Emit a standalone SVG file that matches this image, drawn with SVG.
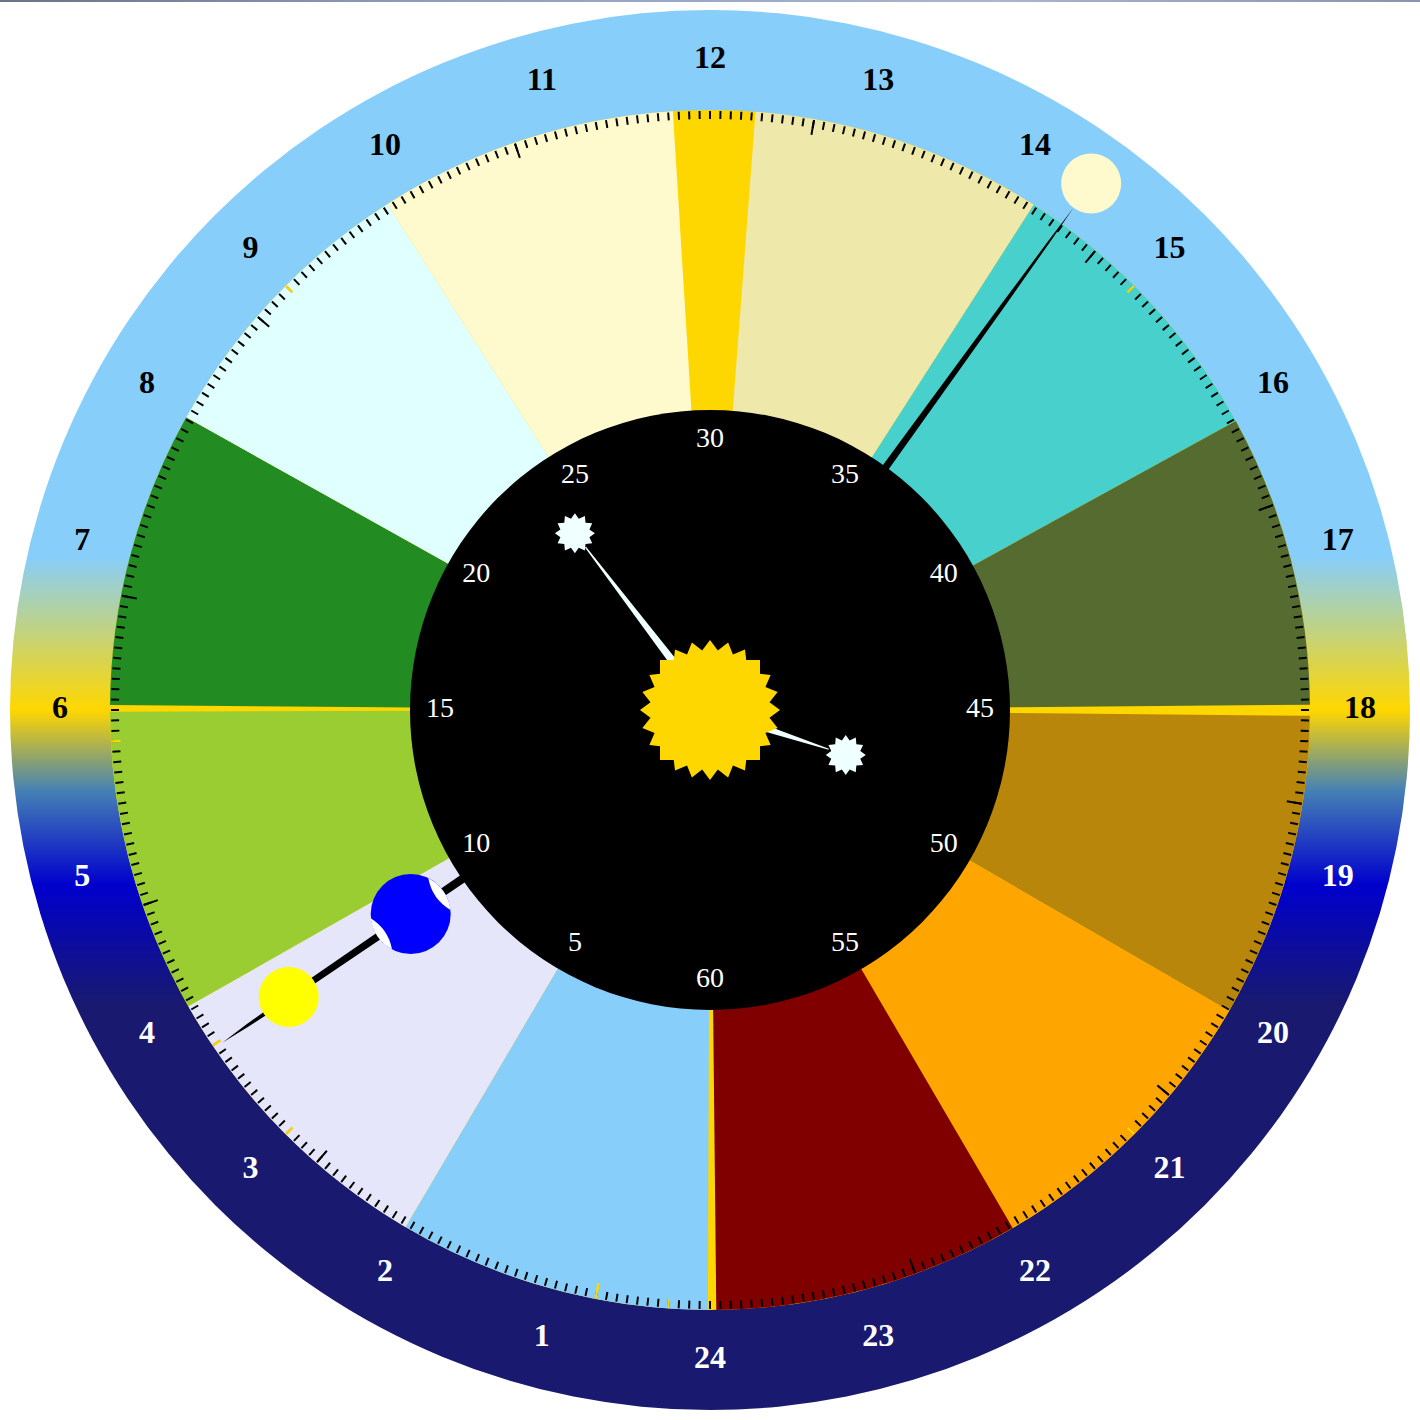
<svg xmlns="http://www.w3.org/2000/svg" width="1420" height="1420" viewBox="0 0 1420 1420">
<style>
.tk{stroke:#000;stroke-width:2}
.yt{stroke:#FFD700;stroke-width:2.4}
.hr{font-family:"Liberation Serif",serif;font-weight:bold;font-size:32px;text-anchor:middle}
.hw{fill:#fff}
.hb{fill:#000}
.mn{font-family:"Liberation Serif",serif;font-size:28px;text-anchor:middle;fill:#fff}
.az{fill:#F0FFFF}
</style>
<defs>
<linearGradient id="sky" x1="0" y1="0" x2="0" y2="1">
<stop offset="0" stop-color="#87CEFA"/>
<stop offset="0.39" stop-color="#87CEFA"/>
<stop offset="0.5" stop-color="#FFD700"/>
<stop offset="0.557" stop-color="#4682B4"/>
<stop offset="0.625" stop-color="#0000CD"/>
<stop offset="0.71" stop-color="#191970"/>
<stop offset="1" stop-color="#191970"/>
</linearGradient>
<linearGradient id="strip" x1="0" y1="0" x2="1" y2="0">
<stop offset="0" stop-color="#6d7385"/>
<stop offset="0.3" stop-color="#8f9cc0"/>
<stop offset="0.7" stop-color="#a9b6cc"/>
<stop offset="1" stop-color="#8a93ad"/>
</linearGradient>
<line id="tk" class="tk" x1="710" y1="111" x2="710" y2="119"/>
<g id="t10">
<use href="#tk"/>
<use href="#tk" transform="rotate(1 710 710)"/>
<use href="#tk" transform="rotate(2 710 710)"/>
<use href="#tk" transform="rotate(3 710 710)"/>
<use href="#tk" transform="rotate(4 710 710)"/>
<use href="#tk" transform="rotate(5 710 710)"/>
<use href="#tk" transform="rotate(6 710 710)"/>
<use href="#tk" transform="rotate(7 710 710)"/>
<use href="#tk" transform="rotate(8 710 710)"/>
<use href="#tk" transform="rotate(9 710 710)"/>
</g>
<path id="star12" d="M0,-20 L3.88,-14.49 L10,-17.32 L10.61,-10.61 L17.32,-10 L14.49,-3.88 L20,0 L14.49,3.88 L17.32,10 L10.61,10.61 L10,17.32 L3.88,14.49 L0,20 L-3.88,14.49 L-10,17.32 L-10.61,10.61 L-17.32,10 L-14.49,3.88 L-20,0 L-14.49,-3.88 L-17.32,-10 L-10.61,-10.61 L-10,-17.32 L-3.88,-14.49 Z"/>
</defs>

<rect x="0" y="0" width="1420" height="2" fill="url(#strip)"/>

<g id="outer-ring">
<circle cx="710" cy="710" r="700" fill="url(#sky)"/>
</g>

<g id="sectors">
<circle cx="710" cy="710" r="600" fill="#FFD700"/>
<path fill="#EEE8AA" d="M710,710 L755.51,111.73 A600,600 0 0 1 1033.71,204.81 Z"/>
<path fill="#48D1CC" d="M710,710 L1033.71,204.81 A600,600 0 0 1 1235.78,420.94 Z"/>
<path fill="#556B2F" d="M710,710 L1235.78,420.94 A600,600 0 0 1 1309.98,704.76 Z"/>
<path fill="#B8860B" d="M710,710 L1309.97,715.76 A600,600 0 0 1 1229.09,1010.91 Z"/>
<path fill="#FFA500" d="M710,710 L1229.09,1010.91 A600,600 0 0 1 1012.72,1228.04 Z"/>
<path fill="#800000" d="M710,710 L1012.72,1228.04 A600,600 0 0 1 716.28,1309.97 Z"/>
<path fill="#87CEFA" d="M710,710 L707.91,1310 A600,600 0 0 1 405.48,1226.98 Z"/>
<path fill="#E6E6FA" d="M710,710 L405.48,1226.98 A600,600 0 0 1 188.30,1006.37 Z"/>
<path fill="#9ACD32" d="M710,710 L188.30,1006.37 A600,600 0 0 1 110,711.68 Z"/>
<path fill="#228B22" d="M710,710 L110,704.97 A600,600 0 0 1 186.24,417.28 Z"/>
<path fill="#E0FFFF" d="M710,710 L186.24,417.28 A600,600 0 0 1 387.62,203.97 Z"/>
<path fill="#FFFACD" d="M710,710 L387.62,203.97 A600,600 0 0 1 672.85,111.15 Z"/>
</g>

<g id="ticks">
<use href="#t10"/>
<use href="#t10" transform="rotate(10 710 710)"/>
<use href="#t10" transform="rotate(20 710 710)"/>
<use href="#t10" transform="rotate(30 710 710)"/>
<use href="#t10" transform="rotate(40 710 710)"/>
<use href="#t10" transform="rotate(50 710 710)"/>
<use href="#t10" transform="rotate(60 710 710)"/>
<use href="#t10" transform="rotate(70 710 710)"/>
<use href="#t10" transform="rotate(80 710 710)"/>
<use href="#t10" transform="rotate(90 710 710)"/>
<use href="#t10" transform="rotate(100 710 710)"/>
<use href="#t10" transform="rotate(110 710 710)"/>
<use href="#t10" transform="rotate(120 710 710)"/>
<use href="#t10" transform="rotate(130 710 710)"/>
<use href="#t10" transform="rotate(140 710 710)"/>
<use href="#t10" transform="rotate(150 710 710)"/>
<use href="#t10" transform="rotate(160 710 710)"/>
<use href="#t10" transform="rotate(170 710 710)"/>
<use href="#t10" transform="rotate(180 710 710)"/>
<use href="#t10" transform="rotate(190 710 710)"/>
<use href="#t10" transform="rotate(200 710 710)"/>
<use href="#t10" transform="rotate(210 710 710)"/>
<use href="#t10" transform="rotate(220 710 710)"/>
<use href="#t10" transform="rotate(230 710 710)"/>
<use href="#t10" transform="rotate(240 710 710)"/>
<use href="#t10" transform="rotate(250 710 710)"/>
<use href="#t10" transform="rotate(260 710 710)"/>
<use href="#t10" transform="rotate(270 710 710)"/>
<use href="#t10" transform="rotate(280 710 710)"/>
<use href="#t10" transform="rotate(290 710 710)"/>
<use href="#t10" transform="rotate(300 710 710)"/>
<use href="#t10" transform="rotate(310 710 710)"/>
<use href="#t10" transform="rotate(320 710 710)"/>
<use href="#t10" transform="rotate(330 710 710)"/>
<use href="#t10" transform="rotate(340 710 710)"/>
<use href="#t10" transform="rotate(350 710 710)"/>
<g class="tk">
<line x1="710" y1="111" x2="710" y2="126" transform="rotate(10 710 710)"/>
<line x1="710" y1="111" x2="710" y2="126" transform="rotate(40 710 710)"/>
<line x1="710" y1="111" x2="710" y2="126" transform="rotate(70 710 710)"/>
<line x1="710" y1="111" x2="710" y2="126" transform="rotate(99 710 710)"/>
<line x1="710" y1="111" x2="710" y2="126" transform="rotate(130 710 710)"/>
<line x1="710" y1="111" x2="710" y2="126" transform="rotate(160 710 710)"/>
<line x1="710" y1="111" x2="710" y2="126" transform="rotate(221 710 710)"/>
<line x1="710" y1="111" x2="710" y2="126" transform="rotate(251 710 710)"/>
<line x1="710" y1="111" x2="710" y2="126" transform="rotate(281 710 710)"/>
<line x1="710" y1="111" x2="710" y2="126" transform="rotate(311 710 710)"/>
<line x1="710" y1="111" x2="710" y2="126" transform="rotate(341 710 710)"/>
</g>
<g class="yt">
<line x1="710" y1="110.5" x2="710" y2="126" transform="rotate(191 710 710)"/>
<line x1="710" y1="110.5" x2="710" y2="119.5" transform="rotate(45 710 710)"/>
<line x1="710" y1="110.5" x2="710" y2="119.5" transform="rotate(135 710 710)"/>
<line x1="710" y1="110.5" x2="710" y2="119.5" transform="rotate(184 710 710)"/>
<line x1="710" y1="110.5" x2="710" y2="119.5" transform="rotate(225 710 710)"/>
<line x1="710" y1="110.5" x2="710" y2="119.5" transform="rotate(236 710 710)"/>
<line x1="710" y1="110.5" x2="710" y2="119.5" transform="rotate(267 710 710)"/>
<line x1="710" y1="110.5" x2="710" y2="119.5" transform="rotate(315 710 710)"/>
</g>
</g>

<g id="connectors">
<polygon id="moon-line" fill="#000" points="859.84,509.84 1004.81,306.14 1050.91,240.76 1073.56,207.77 1049.29,239.58 1001.57,303.80 853.36,505.14"/>
<polygon id="sun-line" fill="#000" points="506.01,854.60 315.35,983.22 248.22,1026.82 222.60,1042.48 246.54,1024.34 311.59,977.76 500.94,847.16"/>
</g>

<g id="moon">
<circle cx="1091.15" cy="183.47" r="30" fill="#FFFACD"/>
</g>
<g id="sun-marker">
<circle cx="288.7" cy="997" r="30" fill="#FFFF00"/>
<path fill="#191970" d="M274,970.85 A30,30 0 0 1 287,967.05 A40,40 0 0 0 274,970.85 Z"/>
</g>
<g id="earth">
<circle cx="410.7" cy="914" r="40" fill="#0000FF"/>
<path fill="#fff" d="M428.3,878.3 A40,40 0 0 1 450.5,910 A47,47 0 0 1 428.3,878.3 Z"/>
<path fill="#fff" d="M392,949.2 A40,40 0 0 1 370.7,918.3 A47,47 0 0 1 392,949.2 Z"/>
</g>

<g id="dial">
<circle cx="710" cy="710" r="300" fill="#000"/>
<g id="minute-labels">
<text class="mn" x="575" y="950.83">5</text>
<text class="mn" x="476.17" y="852">10</text>
<text class="mn" x="440" y="717">15</text>
<text class="mn" x="476.17" y="582">20</text>
<text class="mn" x="575" y="483.17">25</text>
<text class="mn" x="710" y="447">30</text>
<text class="mn" x="845" y="483.17">35</text>
<text class="mn" x="943.83" y="582">40</text>
<text class="mn" x="980" y="717">45</text>
<text class="mn" x="943.83" y="852">50</text>
<text class="mn" x="845" y="950.83">55</text>
<text class="mn" x="710" y="987">60</text>
</g>
</g>

<g id="hands">
<polygon class="az" points="714.13,706.84 586.05,546.73 584.93,547.58 705.87,713.16"/>
<polygon class="az" points="708.27,715.22 828.52,749.72 828.84,748.78 711.73,704.78"/>
<use href="#star12" class="az" transform="translate(574.9 533.3)"/>
<use href="#star12" class="az" transform="translate(845.77 754.9)"/>
</g>

<g id="center-sun" fill="#FFD700">
<rect x="660" y="660" width="100" height="100"/>
<path transform="translate(710 710)" d="M0,-70 L7.83,-59.49 L18.12,-67.62 L22.96,-55.43 L35,-60.62 L36.53,-47.60 L49.50,-49.50 L47.60,-36.53 L60.62,-35 L55.43,-22.96 L67.62,-18.12 L59.49,-7.83 L70,0 L59.49,7.83 L67.62,18.12 L55.43,22.96 L60.62,35 L47.60,36.53 L49.5,49.5 L36.53,47.60 L35,60.62 L22.96,55.43 L18.12,67.62 L7.83,59.49 L0,70 L-7.83,59.49 L-18.12,67.62 L-22.96,55.43 L-35,60.62 L-36.53,47.60 L-49.5,49.5 L-47.60,36.53 L-60.62,35 L-55.43,22.96 L-67.62,18.12 L-59.49,7.83 L-70,0 L-59.49,-7.83 L-67.62,-18.12 L-55.43,-22.96 L-60.62,-35 L-47.60,-36.53 L-49.5,-49.5 L-36.53,-47.60 L-35,-60.62 L-22.96,-55.43 L-18.12,-67.62 L-7.83,-59.49 Z"/>
</g>

<g id="hour-labels" class="hr">
<text class="hw" x="710" y="1368">24</text>
<text class="hw" x="541.77" y="1345.85">1</text>
<text class="hw" x="385" y="1280.92">2</text>
<text class="hw" x="250.38" y="1177.62">3</text>
<text class="hw" x="147.08" y="1043">4</text>
<text class="hw" x="82.15" y="886.23">5</text>
<text class="hb" x="60" y="718">6</text>
<text class="hb" x="82.15" y="549.77">7</text>
<text class="hb" x="147.08" y="393">8</text>
<text class="hb" x="250.38" y="258.38">9</text>
<text class="hb" x="385" y="155.08">10</text>
<text class="hb" x="541.77" y="90.15">11</text>
<text class="hb" x="710" y="68">12</text>
<text class="hb" x="878.23" y="90.15">13</text>
<text class="hb" x="1035" y="155.08">14</text>
<text class="hb" x="1169.62" y="258.38">15</text>
<text class="hb" x="1272.92" y="393">16</text>
<text class="hb" x="1337.85" y="549.77">17</text>
<text class="hb" x="1360" y="718">18</text>
<text class="hw" x="1337.85" y="886.23">19</text>
<text class="hw" x="1272.92" y="1043">20</text>
<text class="hw" x="1169.62" y="1177.62">21</text>
<text class="hw" x="1035" y="1280.92">22</text>
<text class="hw" x="878.23" y="1345.85">23</text>
</g>
</svg>
